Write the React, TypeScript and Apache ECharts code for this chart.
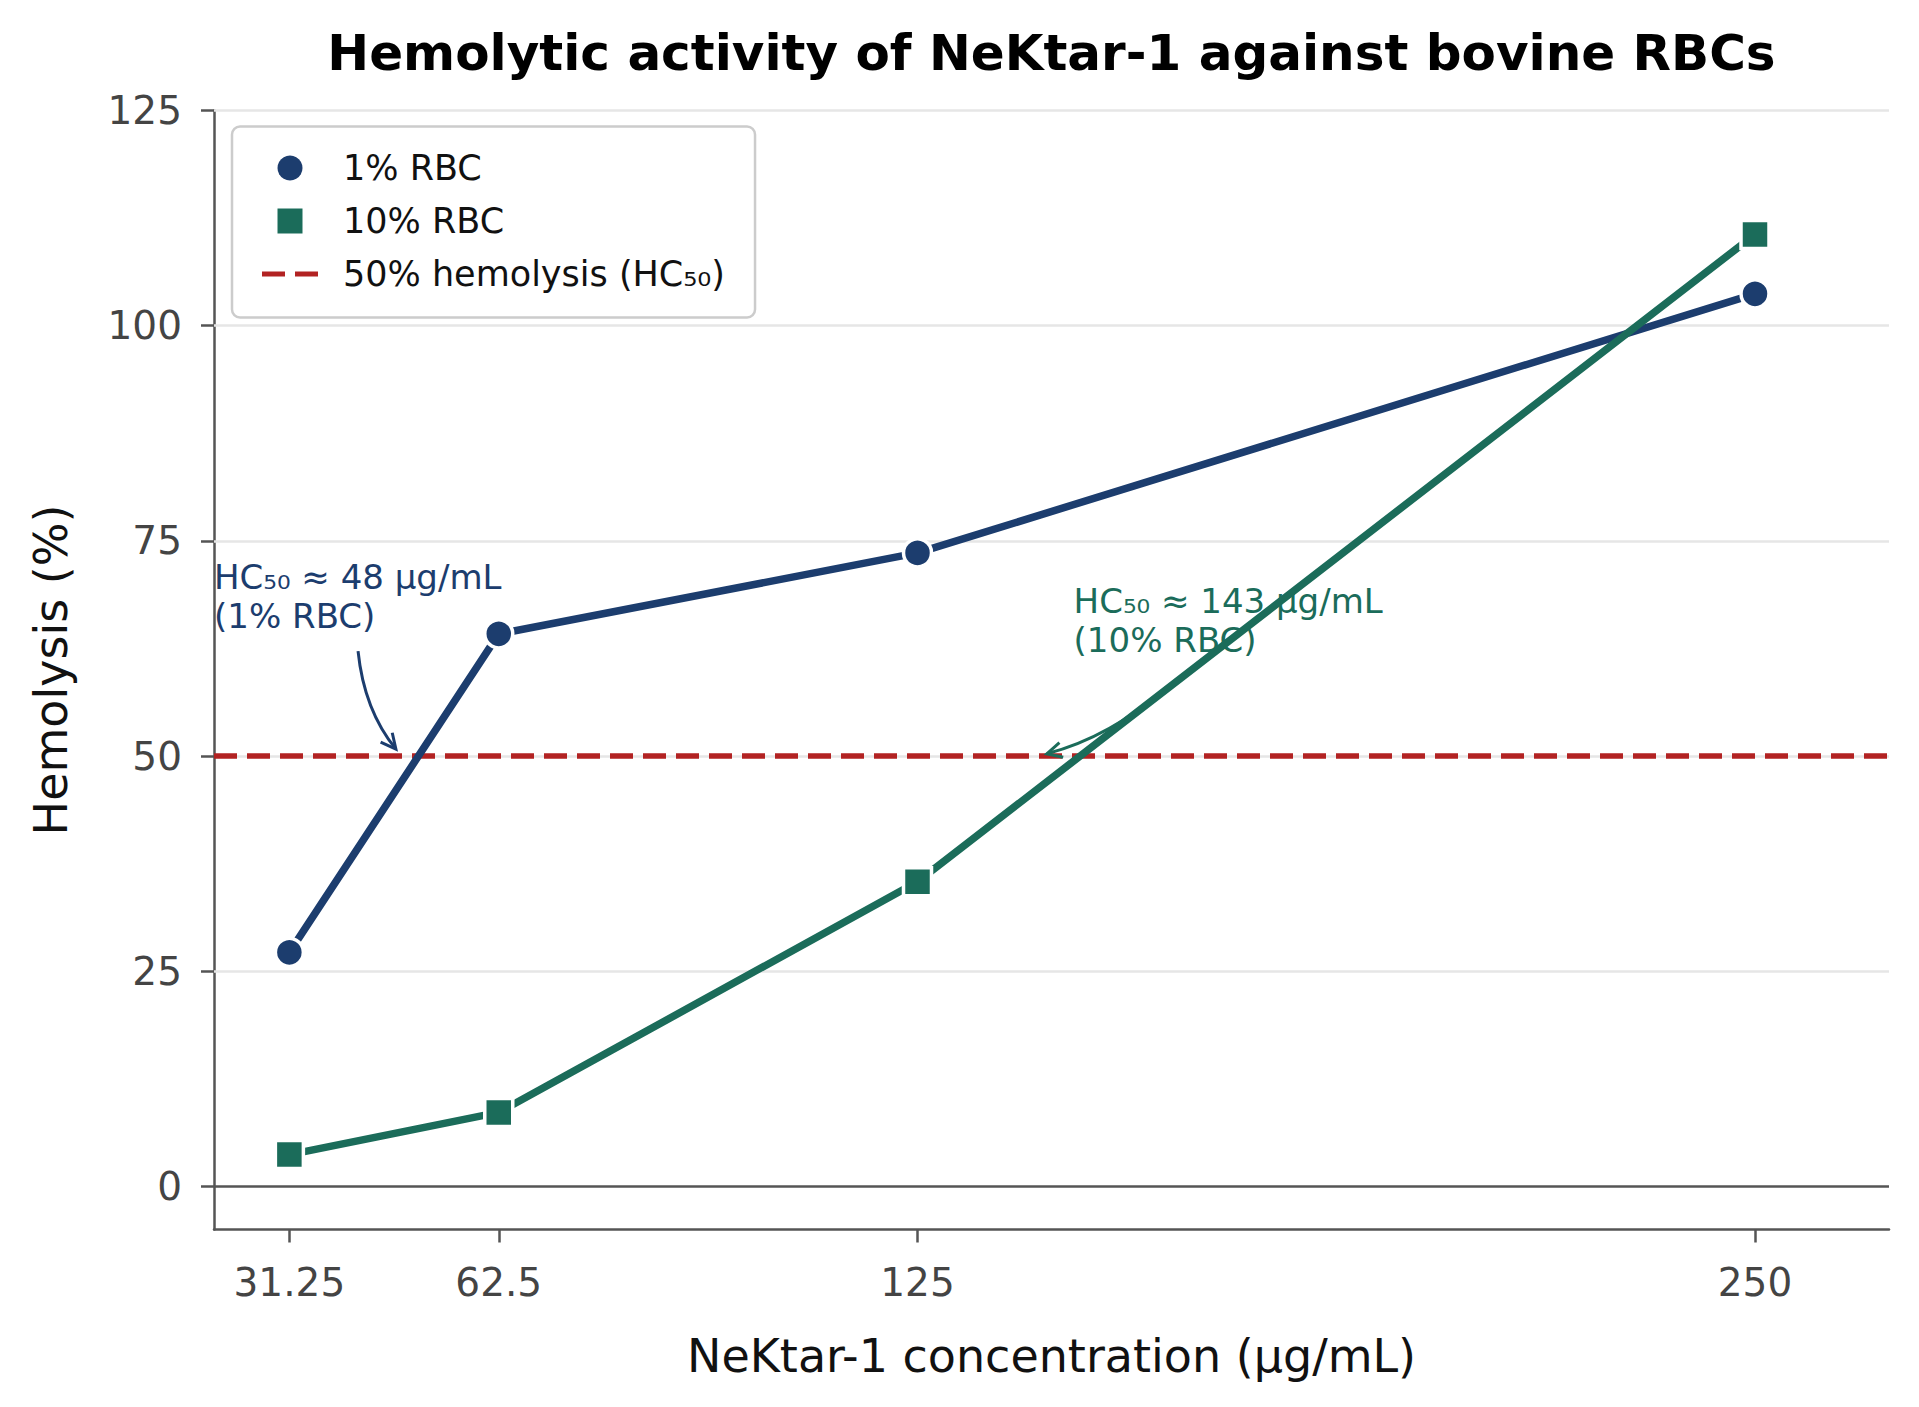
import React, { useEffect, useRef } from "react";
import * as echarts from "echarts";

// ---- data ----
const concentrations = [31.25, 62.5, 125, 250];
const hemolysis1 = [27.2, 64.2, 73.6, 103.7];
const hemolysis10 = [3.7, 8.6, 35.4, 110.6];
const yTicks = [0, 25, 50, 75, 100, 125];
const xRange = [20, 270];
const yRange = [-5, 125];
const hc50Level = 50;
const seriesNames = ["1% RBC", "10% RBC", "50% hemolysis (HC₅₀)"];
const TITLE = "Hemolytic activity of NeKtar-1 against bovine RBCs";
const X_NAME = "NeKtar-1 concentration (μg/mL)";
const Y_NAME = "Hemolysis (%)";

const NAVY = "#1c3d6e";
const GREEN = "#1b6c5a";
const RED = "#b22222";
const FONT = "DejaVu Sans";

const annotationTexts = ["HC₅₀ ≈ 48 μg/mL\n(1% RBC)", "HC₅₀ ≈ 143 μg/mL\n(10% RBC)"];
const annotationTextAt = [
  [20, 68.5],
  [148.3, 65.8],
];
const annotationFrom = [
  [41.5, 62.2],
  [162.2, 58.0],
];
const annotationTo = [
  [48, 50],
  [143, 50],
];
const annotationRad = [0.15, -0.12];
const annotationColors = [NAVY, GREEN];

export default function App() {
  const ref = useRef<HTMLDivElement>(null);

  useEffect(() => {
    document.body.style.margin = "0";
    if (!ref.current) return;
    const chart = echarts.init(ref.current, null, { renderer: "svg" });

    const gridLines: any[] = yTicks
      .filter((v) => v !== 0)
      .map((v) => ({ yAxis: v, lineStyle: { color: "#e6e6e6", width: 2.5, type: "solid" } }));
    gridLines.push({ yAxis: 0, lineStyle: { color: "#555555", width: 2.5, type: "solid" } });

    const option: any = {
      animation: false,
      backgroundColor: "#ffffff",
      grid: { left: 214, top: 110.5, width: 1675, height: 1119, containLabel: false },
      legend: {
        orient: "vertical",
        left: 232,
        top: 126.5,
        data: [
          { name: seriesNames[0], icon: "circle" },
          { name: seriesNames[1], icon: "path://M0 0H10V10H0Z" },
          { name: seriesNames[2], icon: "path://M0 0H23V5H0Z M33 0H56V5H33Z" },
        ],
        itemWidth: 56,
        itemHeight: 25,
        itemGap: 18,
        padding: [24, 30, 26, 30],
        backgroundColor: "rgba(255,255,255,0.9)",
        borderColor: "#cccccc",
        borderWidth: 2.5,
        borderRadius: 8,
        selectedMode: false,
        symbolKeepAspect: true,
        itemStyle: { borderWidth: 0 },
        textStyle: {
          fontSize: 35,
          color: "#111111",
          fontFamily: FONT,
          padding: [0, 0, 0, 20],
        },
      },
      xAxis: {
        type: "value",
        min: xRange[0],
        max: xRange[1],
        name: X_NAME,
        nameLocation: "middle",
        nameGap: 103,
        nameTextStyle: { fontSize: 46, color: "#111111", fontFamily: FONT },
        axisLine: { show: true, onZero: false, lineStyle: { color: "#555555", width: 2.5 } },
        axisTick: { show: true, length: 13, customValues: concentrations, lineStyle: { color: "#555555", width: 2.5 } },
        axisLabel: { customValues: concentrations, fontSize: 39, color: "#444444", margin: 33, fontFamily: FONT },
        splitLine: { show: false },
      },
      yAxis: {
        type: "value",
        min: yRange[0],
        max: yRange[1],
        name: Y_NAME,
        nameLocation: "middle",
        nameGap: 140,
        nameRotate: 90,
        nameTextStyle: { fontSize: 46, color: "#111111", fontFamily: FONT },
        axisLine: { show: true, lineStyle: { color: "#555555", width: 2.5 } },
        axisTick: { show: true, length: 13, customValues: yTicks, lineStyle: { color: "#555555", width: 2.5 } },
        axisLabel: { customValues: yTicks, fontSize: 39, color: "#444444", margin: 32, fontFamily: FONT },
        splitLine: { show: false },
      },
      series: [
        {
          name: "__grid",
          type: "line",
          data: [],
          z: 1,
          silent: true,
          markLine: {
            z: 1,
            silent: true,
            symbol: ["none", "none"],
            label: { show: false },
            emphasis: { disabled: true },
            data: gridLines,
          },
        },
        {
          name: seriesNames[2],
          type: "line",
          data: xRange.map((x) => [x, hc50Level]),
          symbol: "none",
          z: 2,
          itemStyle: { color: RED },
          lineStyle: { color: RED, width: 5.5, type: [23, 10] },
        },
        {
          name: seriesNames[0],
          type: "line",
          data: concentrations.map((c, i) => [c, hemolysis1[i]]),
          symbol: "circle",
          symbolSize: 28,
          z: 3,
          lineStyle: { color: NAVY, width: 7.5 },
          itemStyle: { color: NAVY, borderColor: "#ffffff", borderWidth: 3.5 },
        },
        {
          name: seriesNames[1],
          type: "line",
          data: concentrations.map((c, i) => [c, hemolysis10[i]]),
          symbol: "rect",
          symbolSize: 28,
          z: 3,
          lineStyle: { color: GREEN, width: 7.5 },
          itemStyle: { color: GREEN, borderColor: "#ffffff", borderWidth: 3.5 },
        },
      ],
    };

    chart.setOption(option);

    const px = (p: number[]) => chart.convertToPixel({ gridIndex: 0 }, p) as number[];
    const graphics: any[] = [];
    graphics.push({
      type: "text",
      z: 100,
      style: {
        text: TITLE,
        x: px([(xRange[0] + xRange[1]) / 2, 0])[0],
        y: 52.8,
        fill: "#000000",
        fontSize: 50,
        fontWeight: "bold",
        fontFamily: FONT,
        align: "center",
        verticalAlign: "middle",
      },
    });

    annotationTexts.forEach((txt, i) => {
      const color = annotationColors[i];
      const t = px(annotationTextAt[i]);
      graphics.push({
        type: "text",
        z: 100,
        style: {
          text: txt,
          x: t[0],
          y: t[1],
          fill: color,
          fontSize: 34,
          fontFamily: FONT,
          align: "left",
          verticalAlign: "middle",
          lineHeight: 39,
        },
      });
      const s = px(annotationFrom[i]);
      const e0 = px(annotationTo[i]);
      const dx = e0[0] - s[0];
      const dy = e0[1] - s[1];
      const rad = annotationRad[i];
      const cx = (s[0] + e0[0]) / 2 + rad * -dy;
      const cy = (s[1] + e0[1]) / 2 + rad * dx;
      let ux = e0[0] - cx;
      let uy = e0[1] - cy;
      const ul = Math.hypot(ux, uy);
      ux /= ul;
      uy /= ul;
      const e = [e0[0] - ux * 9, e0[1] - uy * 9];
      graphics.push({
        type: "bezierCurve",
        z: 100,
        shape: { x1: s[0], y1: s[1], x2: e[0], y2: e[1], cpx1: cx, cpy1: cy },
        style: { stroke: color, lineWidth: 3, fill: null },
      });
      const L = 15;
      const W = 7.5;
      const nx = -uy;
      const ny = ux;
      graphics.push({
        type: "polyline",
        z: 100,
        shape: {
          points: [
            [e[0] - ux * L + nx * W, e[1] - uy * L + ny * W],
            [e[0], e[1]],
            [e[0] - ux * L - nx * W, e[1] - uy * L - ny * W],
          ],
        },
        style: { stroke: color, lineWidth: 3, fill: null },
      });
    });

    chart.setOption({ graphic: graphics });

    return () => chart.dispose();
  }, []);

  return (
    <div
      ref={ref}
      style={{ position: "absolute", left: 0, top: 0, width: 1919, height: 1407, background: "#ffffff" }}
    />
  );
}
